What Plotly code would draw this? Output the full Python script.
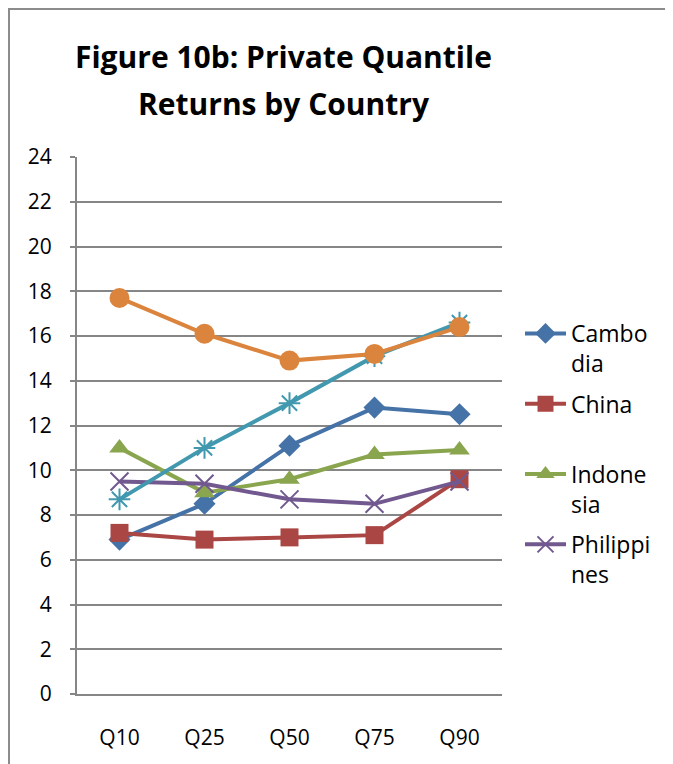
import plotly.graph_objects as go

categories = ["Q10", "Q25", "Q50", "Q75", "Q90"]
cambodia = [6.9, 8.5, 11.1, 12.8, 12.5]
china = [7.2, 6.9, 7.0, 7.1, 9.6]
indonesia = [11.0, 9.0, 9.6, 10.7, 10.9]
philippines = [9.5, 9.4, 8.7, 8.5, 9.5]
series5 = [8.7, 11.0, 13.0, 15.1, 16.6]
series6 = [17.7, 16.1, 14.9, 15.2, 16.4]
y_ticks = list(range(0, 25, 2))

FONT = "Open Sans"
OFF = 8  # default page margin of the html body
W, H = 673 - OFF, 764 - OFF
L, R, T, B = 77 - OFF, 502 - OFF, 157 - OFF, 694 - OFF
pw, ph = R - L, B - T

def px(x):
    return (x - OFF - L) / pw

def py(y):
    return (B - (y - OFF)) / ph

fig = go.Figure()

def add(name, vals, color, symbol, size, show, mline=None):
    marker = dict(symbol=symbol, size=size, color=color)
    if mline:
        marker["line"] = dict(color=color, width=mline)
    fig.add_trace(go.Scatter(
        x=categories, y=vals, name=name, mode="lines+markers", legendgroup=name,
        line=dict(color=color, width=4), marker=marker, showlegend=show))

NB = "\u00a0"
add("Cambo<br>dia", cambodia, "#4572A7", "diamond", 17, True)
add("China<br>" + NB, china, "#AA4643", "square", 18, True)
add("Indone<br>sia", indonesia, "#89A54E", "triangle-up", 18, True)
add("Philippi<br>nes", philippines, "#71588F", "x-thin-open", 18, True, 2)
add("Series 5", series5, "#4198AF", "asterisk-open", 18, False, 2)
add("Series 6", series6, "#DB843D", "circle", 20, False)

fig.add_shape(type="rect", xref="paper", yref="paper",
              x0=px(9), x1=px(666), y0=py(800), y1=py(9),
              line=dict(color="#8c8c8c", width=2), fillcolor="rgba(0,0,0,0)", layer="below")

fig.add_annotation(text="<b>Figure 10b: Private Quantile</b>", xref="paper", yref="paper",
                   x=px(283), y=py(57), showarrow=False,
                   font=dict(family=FONT, size=30, color="black"), yanchor="middle")
fig.add_annotation(text="<b>Returns by Country</b>", xref="paper", yref="paper",
                   x=px(284), y=py(103), showarrow=False,
                   font=dict(family=FONT, size=30, color="black"), yanchor="middle")

fig.update_layout(
    width=W, height=H,
    margin=dict(l=L, r=W - R, t=T, b=H - B),
    paper_bgcolor="white", plot_bgcolor="white",
    font=dict(family=FONT, size=21, color="black"),
    xaxis=dict(type="category", range=[-0.5, 4.5], showgrid=False,
               showline=True, linecolor="#868686", linewidth=2,
               ticks="", ticklabelstandoff=24, fixedrange=True),
    yaxis=dict(range=[0, 24], tickvals=y_ticks, showgrid=True,
               gridcolor="#868686", gridwidth=2, showline=True,
               linecolor="#868686", linewidth=2, ticks="outside",
               ticklen=5, tickcolor="#868686", tickwidth=2,
               ticklabelstandoff=14, zeroline=False),
    legend=dict(x=px(520), xanchor="left", y=py(312), yanchor="top",
                font=dict(family=FONT, size=23, color="black"),
                bgcolor="rgba(0,0,0,0)", itemwidth=41, traceorder="grouped",
                tracegroupgap=7.5, valign="top"),
)

fig.write_html("out.html")
